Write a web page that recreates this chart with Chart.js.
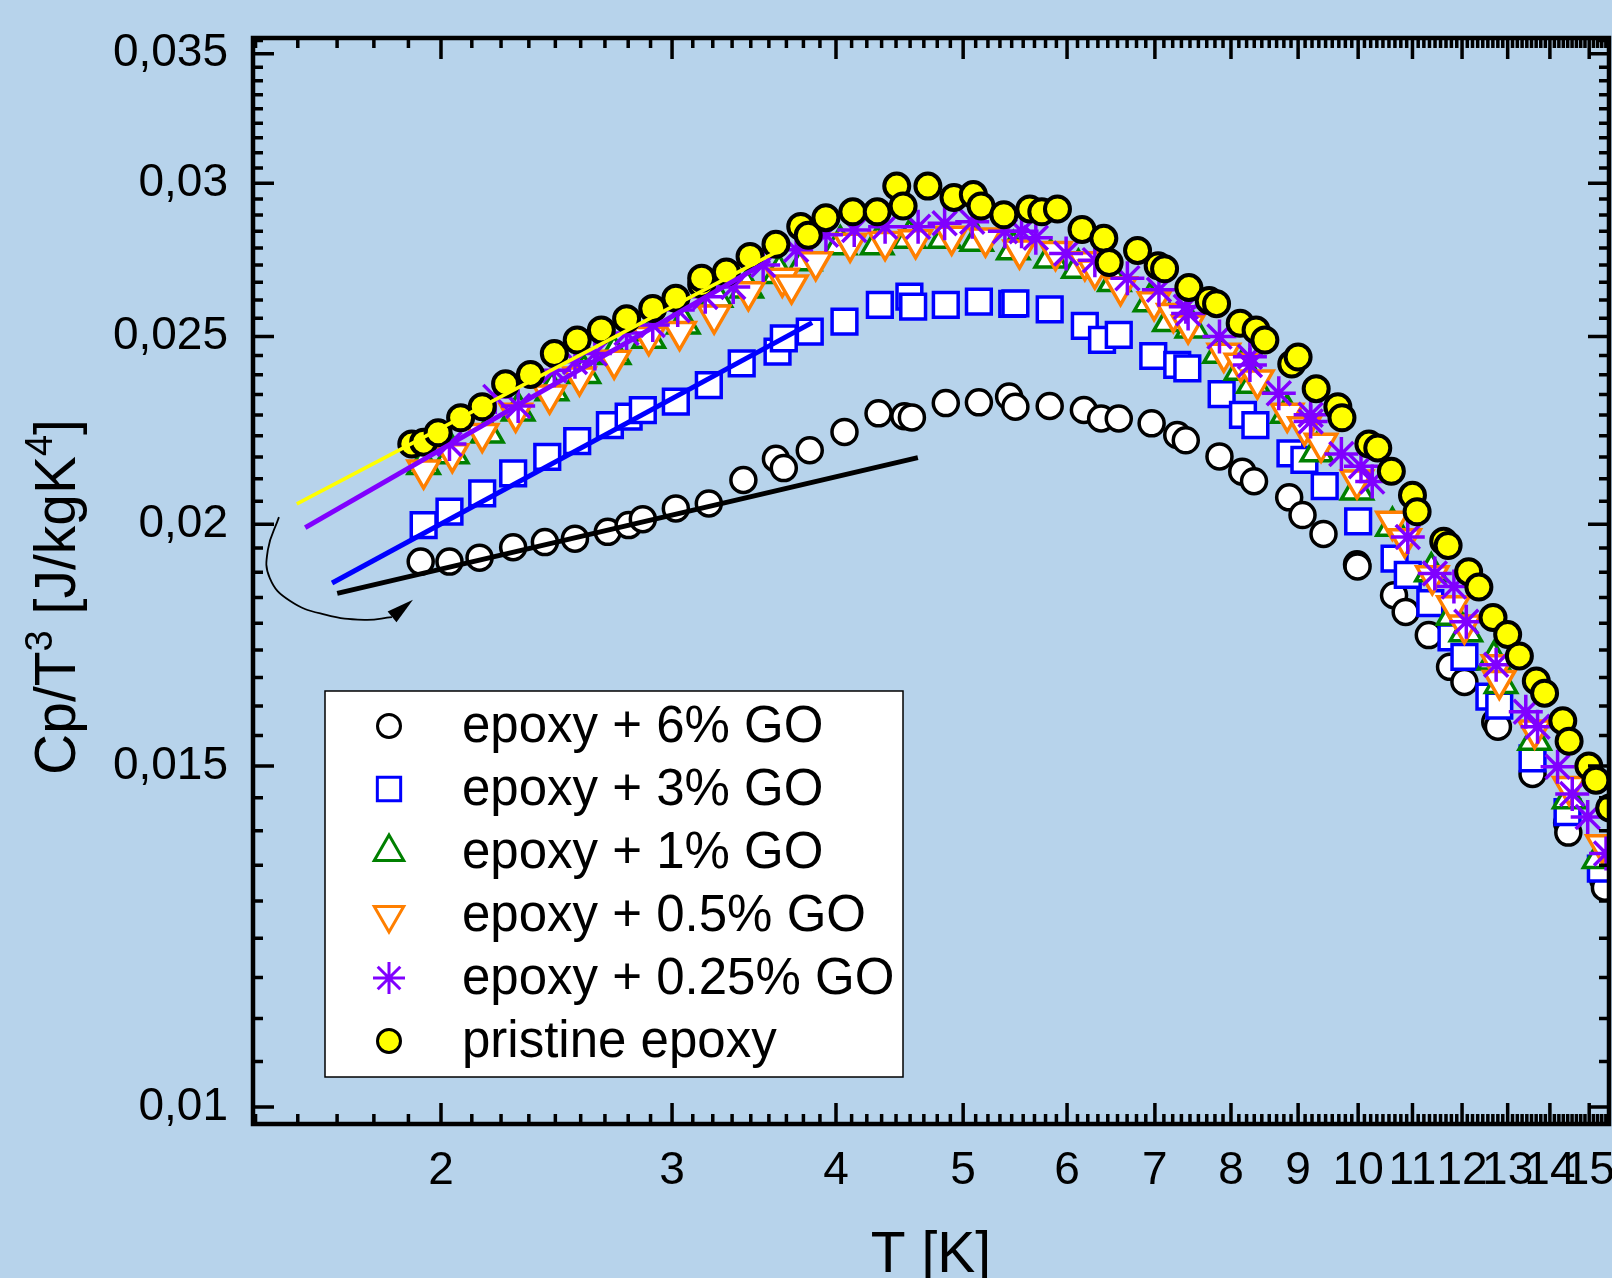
<!DOCTYPE html>
<html>
<head>
<meta charset="utf-8">
<title>Cp/T3 vs T</title>
<script src="https://cdn.jsdelivr.net/npm/chart.js@4.4.1/dist/chart.umd.min.js"></script>
<style>
  html, body { margin: 0; padding: 0; background: #b7d3eb; }
  canvas { display: block; }
</style>
</head>
<body>
<canvas id="cpChart" width="1612" height="1278"></canvas>
<script>
const FONT = "'Liberation Sans', Arial, sans-serif";

// axis ticks
const xTickValues = [2, 3, 4, 5, 6, 7, 8, 9, 10, 11, 12, 13, 14, 15];
const xTickLabels = ["2", "3", "4", "5", "6", "7", "8", "9", "10", "11", "12", "13", "14", "15"];
const yTickValues = [0.01, 0.015, 0.02, 0.025, 0.03, 0.035];
const yTickLabels = ["0,01", "0,015", "0,02", "0,025", "0,03", "0,035"];

const seriesNames = ["epoxy + 6% GO", "epoxy + 3% GO", "epoxy + 1% GO", "epoxy + 0.5% GO", "epoxy + 0.25% GO", "pristine epoxy"];

// epoxy + 6% GO
const t6 = [1.93, 2.03, 2.14, 2.27, 2.40, 2.53, 2.68, 2.78, 2.85, 3.02, 3.20, 3.40, 3.60, 3.65, 3.82, 4.06, 4.31, 4.51, 4.57, 4.85, 5.14, 5.42, 5.48, 5.82, 6.18, 6.37, 6.57, 6.96, 7.28, 7.39, 7.84, 8.16, 8.33, 8.86, 9.07, 9.41, 9.98, 9.99, 10.65, 10.87, 11.32, 11.75, 12.05, 12.72, 12.78, 13.58, 14.43, 14.46, 15.37, 15.42];
const c6 = [0.01913, 0.01913, 0.01922, 0.01946, 0.01958, 0.01966, 0.01982, 0.01998, 0.02012, 0.02038, 0.0205, 0.02108, 0.02162, 0.02138, 0.02184, 0.02232, 0.02282, 0.02274, 0.02271, 0.0231, 0.02312, 0.02328, 0.0230, 0.02302, 0.02291, 0.02268, 0.02268, 0.02255, 0.02224, 0.0221, 0.02168, 0.02129, 0.02105, 0.02065, 0.02022, 0.01977, 0.01907, 0.01902, 0.01838, 0.01802, 0.01753, 0.01688, 0.01658, 0.01581, 0.01572, 0.01486, 0.01402, 0.01386, 0.01311, 0.01298];

// epoxy + 3% GO
const t3 = [1.94, 2.03, 2.15, 2.27, 2.41, 2.54, 2.69, 2.78, 2.85, 3.02, 3.20, 3.39, 3.61, 3.65, 3.82, 4.06, 4.32, 4.55, 4.58, 4.85, 5.14, 5.45, 5.48, 5.82, 6.19, 6.38, 6.57, 6.98, 7.28, 7.41, 7.87, 8.17, 8.35, 8.88, 9.10, 9.43, 10.00, 10.66, 10.91, 11.35, 11.78, 12.05, 12.59, 12.81, 13.58, 14.44, 15.31];
const c3 = [0.01998, 0.0203, 0.02075, 0.02125, 0.02167, 0.02208, 0.0225, 0.02273, 0.02291, 0.02314, 0.0236, 0.02422, 0.02456, 0.02495, 0.02515, 0.02545, 0.02596, 0.02622, 0.02591, 0.02596, 0.02606, 0.02599, 0.02601, 0.02582, 0.02532, 0.0249, 0.02505, 0.02443, 0.02417, 0.02407, 0.02335, 0.02278, 0.0225, 0.02176, 0.02159, 0.02093, 0.02007, 0.0192, 0.01883, 0.01821, 0.01748, 0.01708, 0.01629, 0.01612, 0.01514, 0.0142, 0.01328];

// epoxy + 1% GO
const t1 = [1.94, 2.04, 2.17, 2.29, 2.43, 2.57, 2.71, 2.88, 3.06, 3.24, 3.42, 3.62, 3.79, 4.03, 4.30, 4.55, 4.84, 5.12, 5.46, 5.83, 6.12, 6.52, 6.94, 7.18, 7.47, 7.84, 8.14, 8.32, 8.83, 9.30, 9.98, 10.62, 11.37, 11.81, 12.08, 12.69, 12.85, 13.63, 14.48, 15.26];
const c1 = [0.02147, 0.02175, 0.02229, 0.02288, 0.02344, 0.02393, 0.02447, 0.02495, 0.02538, 0.0262, 0.02649, 0.02695, 0.02736, 0.02789, 0.02789, 0.0281, 0.0281, 0.0280, 0.02772, 0.02745, 0.02712, 0.02669, 0.02606, 0.02545, 0.02526, 0.02451, 0.02402, 0.02365, 0.02282, 0.0218, 0.02083, 0.01995, 0.0189, 0.01795, 0.0176, 0.01702, 0.01655, 0.01547, 0.01443, 0.01344];

// epoxy + 0.5% GO
const t05 = [1.94, 2.04, 2.15, 2.28, 2.42, 2.55, 2.71, 2.88, 3.04, 3.23, 3.43, 3.64, 3.70, 3.86, 4.10, 4.36, 4.60, 4.90, 5.20, 5.52, 5.88, 6.19, 6.30, 6.59, 6.99, 7.23, 7.42, 7.90, 8.14, 8.38, 8.83, 9.10, 9.37, 9.98, 10.62, 10.85, 11.39, 11.82, 12.05, 12.78, 12.81, 13.63, 14.48, 15.35];
const c05 = [0.02133, 0.02175, 0.02228, 0.02282, 0.02332, 0.02383, 0.02431, 0.0250, 0.02515, 0.02565, 0.02637, 0.0268, 0.02658, 0.02733, 0.02794, 0.02799, 0.02805, 0.02817, 0.02811, 0.02771, 0.02766, 0.02733, 0.02706, 0.02653, 0.02606, 0.0257, 0.02535, 0.02451, 0.02422, 0.02374, 0.02282, 0.02246, 0.02202, 0.02108, 0.02007, 0.01966, 0.01881, 0.01815, 0.01774, 0.01692, 0.01661, 0.01566, 0.01464, 0.01366];

// epoxy + 0.25% GO
const t025 = [2.03, 2.20, 2.29, 2.44, 2.53, 2.62, 2.77, 2.90, 3.03, 3.18, 3.34, 3.52, 3.73, 3.93, 4.13, 4.36, 4.62, 4.84, 5.08, 5.38, 5.54, 5.68, 5.99, 6.30, 6.67, 7.05, 7.39, 7.42, 7.84, 8.27, 8.27, 8.70, 9.20, 9.20, 9.71, 10.05, 10.25, 10.91, 11.44, 11.83, 12.09, 12.74, 13.42, 13.70, 14.19, 14.56, 14.96, 15.45];
const c025 = [0.0220, 0.02327, 0.02302, 0.02402, 0.02426, 0.0245, 0.02511, 0.02535, 0.0258, 0.02621, 0.02652, 0.02722, 0.02772, 0.02822, 0.02838, 0.02849, 0.02849, 0.02861, 0.02866, 0.02834, 0.02834, 0.02812, 0.0276, 0.02738, 0.0268, 0.02643, 0.0259, 0.0257, 0.0250, 0.02441, 0.02417, 0.02337, 0.02278, 0.0226, 0.02174, 0.02143, 0.02104, 0.0197, 0.01886, 0.01857, 0.01781, 0.01692, 0.0160, 0.01572, 0.01499, 0.01451, 0.01412, 0.01352];

// pristine epoxy
const tP = [1.90, 1.94, 1.99, 2.07, 2.15, 2.24, 2.34, 2.44, 2.54, 2.65, 2.77, 2.90, 3.02, 3.16, 3.16, 3.30, 3.44, 3.60, 3.76, 3.81, 3.93, 4.12, 4.30, 4.45, 4.50, 4.70, 4.92, 5.09, 5.16, 5.37, 5.62, 5.74, 5.90, 6.16, 6.40, 6.46, 6.79, 7.04, 7.12, 7.43, 7.70, 7.80, 8.13, 8.36, 8.49, 8.90, 9.00, 9.29, 9.65, 9.72, 10.19, 10.35, 10.60, 11.00, 11.09, 11.62, 11.71, 12.14, 12.36, 12.67, 13.00, 13.27, 13.67, 13.87, 14.32, 14.48, 14.99, 15.18, 15.55];
const cP = [0.0220, 0.02205, 0.0223, 0.0227, 0.0230, 0.02364, 0.0239, 0.0245, 0.0249, 0.0252, 0.02554, 0.02585, 0.02617, 0.0266, 0.0268, 0.0270, 0.0275, 0.0279, 0.0285, 0.0282, 0.0288, 0.0290, 0.0290, 0.0299, 0.0292, 0.0299, 0.0295, 0.0296, 0.0292, 0.0289, 0.0291, 0.0290, 0.0291, 0.0284, 0.0281, 0.0273, 0.0277, 0.0272, 0.0271, 0.0265, 0.0261, 0.0260, 0.0254, 0.0252, 0.0249, 0.0242, 0.0244, 0.0235, 0.0230, 0.0227, 0.0220, 0.0219, 0.0213, 0.0207, 0.0203, 0.0196, 0.0195, 0.0189, 0.01856, 0.0179, 0.01754, 0.0171, 0.0166, 0.01636, 0.01583, 0.01545, 0.0150, 0.01475, 0.01427];

// low-T power-law fits (end points)
const fitT6 = [1.667, 4.618];
const fitC6 = [0.01842, 0.02165];
const fitT3 = [1.652, 3.836];
const fitC3 = [0.01865, 0.02542];
const fitT025 = [1.576, 3.562];
const fitC025 = [0.01992, 0.02738];
const fitTP = [1.553, 3.640];
const fitCP = [0.02049, 0.02775];

// curved arrow annotation
const arcT = [1.505, 1.476, 1.481, 1.534, 1.632, 1.75, 1.835];
const arcC = [0.02017, 0.0194, 0.01876, 0.01826, 0.01796, 0.01785, 0.01791];
const arrowTip = [1.904, 0.01828];

const xTitle = "T [K]";
const yTitleParts = [["Cp/T", false], ["3", true], [" [J/kgK", false], ["4", true], ["]", false]];

const pts = (t, c) => t.map((v, i) => ({ x: v, y: c[i] }));

function markers(label, t, c, style, extra, order) {
  return Object.assign({
    label: label,
    data: pts(t, c),
    showLine: false,
    pointStyle: style,
    pointBorderWidth: 3.5,
    pointBackgroundColor: "#ffffff",
    order: order,
  }, extra);
}

function fitLine(t, c, color, width) {
  return {
    label: "fit",
    data: pts(t, c),
    showLine: true,
    borderColor: color,
    borderWidth: width,
    pointRadius: 0,
    fill: false,
    order: 0,
  };
}

const datasets = [
  markers(seriesNames[0], t6, c6, "circle", { pointRadius: 12.5, pointBorderColor: "#000000" }, 6),
  markers(seriesNames[1], t3, c3, "rect", { pointRadius: 17.5, pointBorderColor: "#0000ff" }, 5),
  markers(seriesNames[2], t1, c1, "triangle", { pointRadius: 18, pointBorderColor: "#008000" }, 4),
  markers(seriesNames[3], t05, c05, "triangle", { pointRadius: 18, pointRotation: 180, pointBorderColor: "#ff7f00" }, 3),
  markers(seriesNames[4], t025, c025, "star", { pointRadius: 17, pointBorderColor: "#8000ff" }, 2),
  markers(seriesNames[5], tP, cP, "circle", { pointRadius: 12.5, pointBorderWidth: 4, pointBorderColor: "#000000", pointBackgroundColor: "#ffff00" }, 1),
  fitLine(fitT6, fitC6, "#000000", 5),
  fitLine(fitT3, fitC3, "#0000ff", 5),
  fitLine(fitT025, fitC025, "#8000ff", 5),
  fitLine(fitTP, fitCP, "#ffff00", 3.5),
  {
    label: "arrow",
    data: pts(arcT, arcC),
    showLine: true,
    borderColor: "#000000",
    borderWidth: 1.8,
    tension: 0.45,
    pointRadius: 0,
    fill: false,
    order: 0,
  },
];

const background = {
  id: "background",
  beforeDraw(chart) {
    const c = chart.ctx;
    c.save();
    c.fillStyle = "#b7d3eb";
    c.fillRect(0, 0, chart.width, chart.height);
    c.restore();
  },
};

// inward ticks on all four sides plus the frame
const frameTicks = {
  id: "frameTicks",
  afterDatasetsDraw(chart) {
    const c = chart.ctx;
    const a = chart.chartArea;
    const x = chart.scales.x;
    const y = chart.scales.y;
    const seg = (x0, y0, x1, y1) => { c.moveTo(x0, y0); c.lineTo(x1, y1); };
    c.save();
    c.strokeStyle = "#000000";
    c.lineWidth = 3.5;
    c.beginPath();
    const xTick = (v, len) => {
      const p = x.getPixelForValue(v);
      if (p <= a.left + 1 || p >= a.right - 1) return;
      seg(p, a.bottom, p, a.bottom - len);
      seg(p, a.top, p, a.top + len);
    };
    const yTick = (v, len) => {
      const p = y.getPixelForValue(v);
      if (p <= a.top + 1 || p >= a.bottom - 1) return;
      seg(a.left, p, a.left + len, p);
      seg(a.right, p, a.right - len, p);
    };
    for (let n = 1; n <= 15; n++) {
      for (let k = 1; k <= 8; k++) xTick(n + k / 9, 10);
    }
    xTickValues.forEach((v) => xTick(v, 21));
    for (let m = 0.005; m < 0.036; m += 0.005) {
      for (let k = 1; k <= 8; k++) yTick(m + (k * 0.005) / 9, 10);
    }
    yTickValues.forEach((v) => yTick(v, 21));
    c.stroke();

    // arrow head at the end of the curved arrow
    const meta = chart.getDatasetMeta(chart.data.datasets.length - 1);
    const last = meta.data[meta.data.length - 1];
    const tx = x.getPixelForValue(arrowTip[0]);
    const ty = y.getPixelForValue(arrowTip[1]);
    const ang = Math.atan2(ty - last.y, tx - last.x);
    const len = 27, half = 7;
    const bx = tx - Math.cos(ang) * len, by = ty - Math.sin(ang) * len;
    c.fillStyle = "#000000";
    c.beginPath();
    c.moveTo(tx, ty);
    c.lineTo(bx + Math.sin(ang) * half, by - Math.cos(ang) * half);
    c.lineTo(bx - Math.sin(ang) * half, by + Math.cos(ang) * half);
    c.closePath();
    c.fill();

    c.lineWidth = 4.5;
    c.strokeRect(a.left, a.top, a.right - a.left, a.bottom - a.top);
    c.restore();
  },
};

const boxLegend = {
  id: "boxLegend",
  afterDraw(chart) {
    const c = chart.ctx;
    c.save();
    c.fillStyle = "#ffffff";
    c.fillRect(325, 691, 578, 386);
    c.strokeStyle = "#000000";
    c.lineWidth = 1.5;
    c.strokeRect(325, 691, 578, 386);
    c.font = "51px " + FONT;
    c.textBaseline = "middle";
    c.textAlign = "left";
    for (let i = 0; i < seriesNames.length; i++) {
      const ds = chart.data.datasets[i];
      const rowY = 726 + i * 63;
      c.strokeStyle = ds.pointBorderColor;
      c.fillStyle = ds.pointBackgroundColor;
      c.lineWidth = 3;
      Chart.helpers.drawPoint(c, {
        pointStyle: ds.pointStyle,
        rotation: ds.pointRotation || 0,
        radius: ds.pointRadius - 1,
        borderWidth: 3,
      }, 389, rowY);
      c.fillStyle = "#000000";
      c.fillText(seriesNames[i], 462, rowY + 2);
    }
    c.restore();
  },
};

const axisTitles = {
  id: "axisTitles",
  afterDraw(chart) {
    const c = chart.ctx;
    const a = chart.chartArea;
    c.save();
    c.fillStyle = "#000000";
    c.textBaseline = "alphabetic";
    c.font = "57px " + FONT;
    c.textAlign = "center";
    c.fillText(xTitle, (a.left + a.right) / 2, 1272);

    const big = "57px " + FONT, small = "38px " + FONT;
    let total = 0;
    yTitleParts.forEach(([s, sup]) => {
      c.font = sup ? small : big;
      total += c.measureText(s).width;
    });
    c.translate(75, 597);
    c.rotate(-Math.PI / 2);
    c.textAlign = "left";
    let pos = -total / 2;
    yTitleParts.forEach(([s, sup]) => {
      c.font = sup ? small : big;
      c.fillText(s, pos, sup ? -23 : 0);
      pos += c.measureText(s).width;
    });
    c.restore();
  },
};

const tickFont = { family: FONT, size: 46 };

// keep the plot frame where it is: no extra room for edge labels
function noEdgePadding(s) {
  s.paddingTop = 0;
  s.paddingBottom = 0;
  s.paddingLeft = 0;
  s.paddingRight = 0;
}

new Chart(document.getElementById("cpChart").getContext("2d"), {
  type: "scatter",
  data: { datasets: datasets },
  options: {
    responsive: false,
    devicePixelRatio: 1,
    animation: false,
    events: [],
    layout: { autoPadding: false, padding: { left: 0, top: 38, right: 3, bottom: 0 } },
    plugins: {
      legend: { display: false },
      tooltip: { enabled: false },
    },
    scales: {
      x: {
        type: "logarithmic",
        min: 1.438,
        max: 15.53,
        grid: { display: false, drawTicks: false },
        border: { display: false },
        ticks: {
          autoSkip: false,
          maxRotation: 0,
          minRotation: 0,
          padding: 20,
          color: "#000000",
          font: tickFont,
          callback: (v, i) => xTickLabels[i],
        },
        afterBuildTicks: (s) => { s.ticks = xTickValues.map((v) => ({ value: v })); },
        afterFit: (s) => { s.height = 154; noEdgePadding(s); },
      },
      y: {
        type: "logarithmic",
        min: 0.0098,
        max: 0.03566,
        grid: { display: false, drawTicks: false },
        border: { display: false },
        ticks: {
          padding: 25,
          color: "#000000",
          font: tickFont,
          callback: (v, i) => yTickLabels[i],
        },
        afterBuildTicks: (s) => { s.ticks = yTickValues.map((v) => ({ value: v })); },
        afterFit: (s) => { s.width = 253; noEdgePadding(s); },
      },
    },
  },
  plugins: [background, frameTicks, boxLegend, axisTitles],
});
</script>
</body>
</html>
